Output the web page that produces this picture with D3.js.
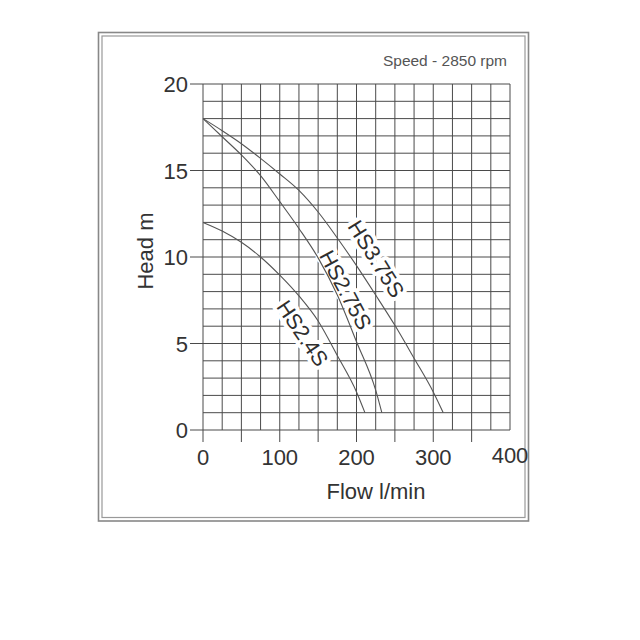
<!DOCTYPE html>
<html>
<head>
<meta charset="utf-8">
<script src="https://cdn.jsdelivr.net/npm/d3@7"></script>
<style>
  body { margin: 0; background: #fff; }
  svg { display: block; }
  text { font-family: "Liberation Sans", Arial, Helvetica, sans-serif; }
</style>
</head>
<body>
<div id="chart"></div>
<script>
// pump curves, flow l/min vs head m
const flowHS24 = [0, 25, 50, 75, 100, 125, 150, 175, 200, 211];
const headHS24 = [12.0, 11.5, 10.85, 10.0, 8.95, 7.75, 6.3, 4.3, 2.2, 1.0];
const flowHS275 = [0, 25, 50, 75, 100, 125, 150, 175, 200, 225, 233];
const headHS275 = [18.0, 16.95, 15.9, 14.7, 13.2, 11.65, 9.95, 7.8, 5.1, 2.3, 1.0];
const flowHS375 = [0, 25, 50, 75, 100, 125, 150, 175, 200, 225, 250, 275, 300, 313];
const headHS375 = [18.0, 17.3, 16.55, 15.7, 14.8, 13.85, 12.6, 11.1, 9.5, 7.8, 6.05, 4.15, 2.2, 1.0];

const seriesNames = ["HS2.4S", "HS2.75S", "HS3.75S"];
// where each name sits (data units) and how it is turned
const labelFlow = [130, 186, 226];
const labelHead = [5.6, 8.1, 9.9];
const labelAngle = [56, 62, 58];

const xTicks = [0, 100, 200, 300, 400];
const yTicks = [0, 5, 10, 15, 20];

const width = 640, height = 640;

const svg = d3.select("#chart").append("svg")
  .attr("width", width)
  .attr("height", height);

// double frame
svg.append("rect")
  .attr("x", 98.5).attr("y", 32.5)
  .attr("width", 430).attr("height", 488.5)
  .attr("fill", "none").attr("stroke", "#888").attr("stroke-width", 1.6);
svg.append("rect")
  .attr("x", 102).attr("y", 36)
  .attr("width", 423).attr("height", 481.5)
  .attr("fill", "none").attr("stroke", "#999").attr("stroke-width", 1.2);

const xScale = d3.scaleLinear().domain([0, 400]).range([203, 510]);
const yScale = d3.scaleLinear().domain([0, 20]).range([430, 84]);

const gridColor = "#4a4a4a";
const gGrid = svg.append("g").attr("class", "grid");

gGrid.selectAll("line.v")
  .data(d3.range(0, 401, 25))
  .enter().append("line")
  .attr("class", "v")
  .attr("x1", d => xScale(d)).attr("x2", d => xScale(d))
  .attr("y1", yScale(20)).attr("y2", yScale(0))
  .attr("stroke", gridColor).attr("stroke-width", 1);

gGrid.selectAll("line.h")
  .data(d3.range(0, 21, 1))
  .enter().append("line")
  .attr("class", "h")
  .attr("x1", xScale(0)).attr("x2", xScale(400))
  .attr("y1", d => yScale(d)).attr("y2", d => yScale(d))
  .attr("stroke", gridColor).attr("stroke-width", 1);

// y ticks stick out to the left
gGrid.selectAll("line.yt")
  .data(yTicks)
  .enter().append("line")
  .attr("class", "yt")
  .attr("x1", xScale(0) - 13).attr("x2", xScale(0))
  .attr("y1", d => yScale(d)).attr("y2", d => yScale(d))
  .attr("stroke", gridColor).attr("stroke-width", 1);

// x ticks stick out below, every 50
gGrid.selectAll("line.xt")
  .data(d3.range(0, 351, 50))
  .enter().append("line")
  .attr("class", "xt")
  .attr("x1", d => xScale(d)).attr("x2", d => xScale(d))
  .attr("y1", yScale(0)).attr("y2", yScale(0) + 12)
  .attr("stroke", gridColor).attr("stroke-width", 1);

// tick labels
svg.append("g").selectAll("text")
  .data(yTicks)
  .enter().append("text")
  .attr("x", xScale(0) - 15)
  .attr("y", d => yScale(d) + 8)
  .attr("text-anchor", "end")
  .attr("font-size", 22)
  .attr("fill", "#333")
  .text(d => d);

svg.append("g").selectAll("text")
  .data(xTicks)
  .enter().append("text")
  .attr("x", d => xScale(d))
  .attr("y", d => d === 400 ? 463 : 465)
  .attr("text-anchor", "middle")
  .attr("font-size", 22)
  .attr("fill", "#333")
  .text(d => d);

// axis titles
svg.append("text")
  .attr("x", 376).attr("y", 499)
  .attr("text-anchor", "middle")
  .attr("font-size", 22)
  .attr("fill", "#333")
  .text("Flow l/min");

svg.append("text")
  .attr("transform", "translate(153, 251) rotate(-90)")
  .attr("text-anchor", "middle")
  .attr("font-size", 22)
  .attr("fill", "#333")
  .text("Head m");

svg.append("text")
  .attr("x", 507).attr("y", 66)
  .attr("text-anchor", "end")
  .attr("font-size", 15.5)
  .attr("fill", "#555")
  .text("Speed - 2850 rpm");

// curve names with white halo cutting the grid
svg.append("g").selectAll("text")
  .data(seriesNames)
  .enter().append("text")
  .attr("transform", (d, i) =>
    `translate(${xScale(labelFlow[i])}, ${yScale(labelHead[i])}) rotate(${labelAngle[i]})`)
  .attr("text-anchor", "middle")
  .attr("dy", "0.36em")
  .attr("font-size", 21.5)
  .attr("fill", "#2e2e2e")
  .attr("stroke", "#fff")
  .attr("stroke-width", 8)
  .attr("stroke-linejoin", "round")
  .attr("paint-order", "stroke")
  .text(d => d);

const series = [
  flowHS24.map((f, i) => ({x: f, y: headHS24[i]})),
  flowHS275.map((f, i) => ({x: f, y: headHS275[i]})),
  flowHS375.map((f, i) => ({x: f, y: headHS375[i]}))
];

const line = d3.line()
  .x(d => xScale(d.x))
  .y(d => yScale(d.y))
  .curve(d3.curveMonotoneX);

svg.append("g").selectAll("path")
  .data(series)
  .enter().append("path")
  .attr("d", line)
  .attr("fill", "none")
  .attr("stroke", "#555")
  .attr("stroke-width", 1.1);
</script>
</body>
</html>
